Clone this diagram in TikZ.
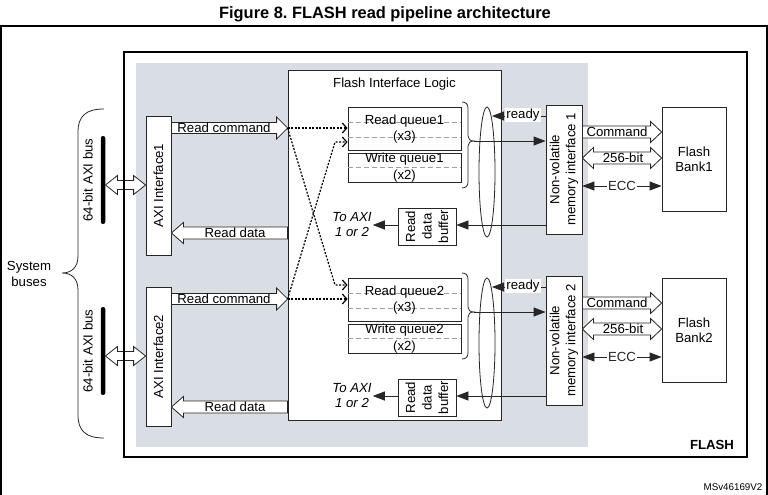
\documentclass[tikz,border=0pt]{standalone}
\usepackage{fontspec}
\setmainfont{Liberation Sans}
\usetikzlibrary{calc,shapes.geometric,arrows.meta}
\definecolor{grayfill}{RGB}{217,221,228}
\definecolor{dashgray}{RGB}{160,160,160}
\colorlet{lc}{black!85}
\frenchspacing
% hollow arrows: #1 tail anchor, #2 tip anchor, #3 y, #4 half shaft, #5 half head, #6 head length
\newcommand\RArrow[6]{\draw[harrow] let \p1=(#1 |- 0,#3), \p2=(#2 |- 0,#3) in
 (\x1,\y1+#4) -- (\x2-#6,\y1+#4) -- (\x2-#6,\y1+#5) -- (\x2,\y1) -- (\x2-#6,\y1-#5) -- (\x2-#6,\y1-#4) -- (\x1,\y1-#4) -- cycle;}
\newcommand\LArrow[6]{\draw[harrow] let \p1=(#1 |- 0,#3), \p2=(#2 |- 0,#3) in
 (\x1,\y1+#4) -- (\x2+#6,\y1+#4) -- (\x2+#6,\y1+#5) -- (\x2,\y1) -- (\x2+#6,\y1-#5) -- (\x2+#6,\y1-#4) -- (\x1,\y1-#4) -- cycle;}
\newcommand\DArrow[6]{\draw[harrow] let \p1=(#1 |- 0,#3), \p2=(#2 |- 0,#3) in
 (\x1,\y1) -- (\x1+#6,\y1+#5) -- (\x1+#6,\y1+#4) -- (\x2-#6,\y1+#4) -- (\x2-#6,\y1+#5) -- (\x2,\y1) -- (\x2-#6,\y1-#5) -- (\x2-#6,\y1-#4) -- (\x1+#6,\y1-#4) -- (\x1+#6,\y1-#5) -- cycle;}
\begin{document}
\begin{tikzpicture}[x=1pt,y=-1pt,font=\fontsize{13.2}{16}\selectfont,
  box/.style={draw=lc,line width=0.8pt,fill=white,inner sep=0pt},
  harrow/.style={draw=lc,line width=0.8pt,fill=white,line join=miter},
  dotline/.style={line width=1.2pt,dash pattern=on 2pt off 1.5pt,-{Straight Barb[length=4.5pt,width=10pt]}},
  sarrow/.style={line width=0.8pt,draw=lc,-{Triangle[length=12pt,width=9pt]}},
  qdash/.style={draw=dashgray,line width=0.8pt,dash pattern=on 5pt off 3pt}]
\useasboundingbox (0,0) rectangle (768,495);
\node[font=\bfseries\fontsize{16.4}{18}\selectfont] (title) at (385,14) {Figure 8. FLASH read pipeline architecture};
\draw[line width=1.2pt] (1,500) -- (1,26) -- (767,26) -- (767,500);
\node[fill=grayfill,minimum width=452,minimum height=384,inner sep=0] (gray) at (362,255) {};
\node[box,minimum width=213,minimum height=350] (fil) at (394.5,245) {};
\node (filt) at (394.5,84) {Flash Interface Logic};
\foreach \i/\o/\r in {1/0/0,2/171/3}{
  % AXI side
  \node[box,minimum width=25,minimum height=139] (axi\i) at (158.5,{185.5+\o}) {};
  \node[rotate=90] (axit\i) at (axi\i) {AXI Interface\i};
  \node[fill=black,minimum width=4.5,minimum height=88,inner sep=0,rounded corners=2.2pt] (bar\i) at (103,{180+\o}) {};
  \node[rotate=90] (bust\i) at (88,{180+\o}) {64-bit AXI bus};
  \DArrow{bar\i.east}{axi\i.west}{{185+\o}}{4.5pt}{9.5pt}{12pt}
  \RArrow{axi\i.east}{fil.west}{{128+\o}}{5.5pt}{11pt}{11pt}
  \node (rct\i) at (224,{128+\o}) {Read command};
  \LArrow{fil.west}{axi\i.east}{{233+\o+\r}}{6pt}{10.5pt}{12pt}
  \node (rdt\i) at (235,{233+\o+\r}) {Read data};
  % queues
  \node[box,minimum width=113,minimum height=43] (rq\i) at (404.5,{128.5+\o}) {};
  \node[box,minimum width=113,minimum height=29] (wq\i) at (404.5,{167.5+\o}) {};
  \draw[qdash] (rq\i.west |- 0,{122+\o}) -- (rq\i.east |- 0,{122+\o});
  \draw[qdash] (rq\i.west |- 0,{137+\o}) -- (rq\i.east |- 0,{137+\o});
  \draw[qdash] (wq\i.west |- 0,{167+\o}) -- (wq\i.east |- 0,{167+\o});
  \node (rqt\i) at (404.5,{121+\o}) {Read queue\i};
  \node (rqx\i) at (404.5,{137+\o}) {(x3)};
  \node (wqt\i) at (404.5,{159+\o}) {Write queue\i};
  \node (wqx\i) at (404.5,{176+\o}) {(x2)};
  \draw[lc,line width=0.8pt,shift={(0,\o)}] (462,102) .. controls (465.5,102) and (468,104) .. (468,108) -- (468,136) .. controls (468,139) and (470,141) .. (474,141) .. controls (470,141) and (468,143) .. (468,146) -- (468,182) .. controls (468,186) and (465.5,188) .. (462,188);
  \coordinate (bt\i) at (474,{141+\o});
  \node[draw=lc,line width=0.8pt,ellipse,minimum width=16,minimum height=130,inner sep=0] (ell\i) at (487,{172+\o}) {};
  % non-volatile memory interface
  \node[box,minimum width=36,minimum height=129] (nvm\i) at (564,{169.5+\o}) {};
  \node[rotate=90,align=center] (nvmt\i) at (nvm\i) {Non-volatile\\memory interface \i};
  \draw[sarrow] (bt\i) -- (nvm\i.west |- bt\i);
  \coordinate (rdy\i) at (492,{116+\o});
  \draw[sarrow] (nvm\i.west |- rdy\i) -- (rdy\i);
  \node[fill=white,inner sep=1pt] (rdyt\i) at (523,{115+\o}) {ready};
  % read data buffer
  \node[box,minimum width=58,minimum height=37] (buf\i) at (427,{226.5+\o}) {};
  \node[rotate=90,align=center,font=\fontsize{13.2}{16.5}\selectfont] (buft\i) at (buf\i) {Read\\data\\buffer};
  \coordinate (bl\i) at (0,{225+\o});
  \draw[sarrow] (nvm\i.west |- bl\i) -- (buf\i.east |- bl\i);
  \node[font=\itshape\fontsize{13.2}{15}\selectfont,align=center,inner sep=1pt] (toaxi\i) at (352,{224.5+\o}) {To AXI\\1 or 2};
  \draw[sarrow] (buf\i.west |- bl\i) -- (toaxi\i.east |- bl\i);
  % flash bank
  \node[box,minimum width=64,minimum height=104,align=center,font=\fontsize{13.2}{15}\selectfont] (bank\i) at (694,{159+\o}) {Flash\\Bank\i};
  \RArrow{nvm\i.east}{bank\i.west}{{132+\o}}{6pt}{10.5pt}{11pt}
  \node (cmdt\i) at (617,{132+\o}) {Command};
  \DArrow{nvm\i.east}{bank\i.west}{{158+\o}}{6pt}{10.5pt}{11pt}
  \node (bitt\i) at (623,{158+\o}) {256-bit};
  \draw[line width=0.8pt,lc,{Triangle[length=12pt,width=9pt]}-{Triangle[length=12pt,width=9pt]}] (nvm\i.east |- 0,{186+\o}) -- (bank\i.west |- 0,{186+\o}) node[midway,fill=white,inner sep=1pt] (ecct\i) {ECC};
}
% dotted crossing paths
\coordinate (k1) at (335,285);
\coordinate (k2) at (335,142);
\draw[dotline] (fil.west |- 0,128) -- (rq1.west |- 0,128);
\draw[dotline] (fil.west |- 0,128) -- (k1) -- (rq2.west |- k1);
\draw[dotline] (fil.west |- 0,299) -- (k2) -- (rq1.west |- k2);
\draw[dotline] (fil.west |- 0,299) -- (rq2.west |- 0,299);
% FLASH frame
\node[draw=black,line width=2pt,minimum width=623,minimum height=405,inner sep=0] (flash) at (435.5,254.5) {};
\node[font=\bfseries\fontsize{13.2}{16}\selectfont] (flashlbl) at (712,445) {FLASH};
\node[font=\fontsize{9.8}{11}\selectfont] (msv) at (733,487) {MSv46169V2};
% system buses brace
\draw[lc,line width=0.8pt] (104,109) .. controls (86,109) and (78,116) .. (78,132) -- (78,256) .. controls (78,267) and (72,273) .. (62,273) .. controls (72,273) and (78,279) .. (78,290) -- (78,415) .. controls (78,431) and (86,438) .. (104,438);
\node[align=center] (sysb) at (29,274) {System\\buses};
\end{tikzpicture}
\end{document}
